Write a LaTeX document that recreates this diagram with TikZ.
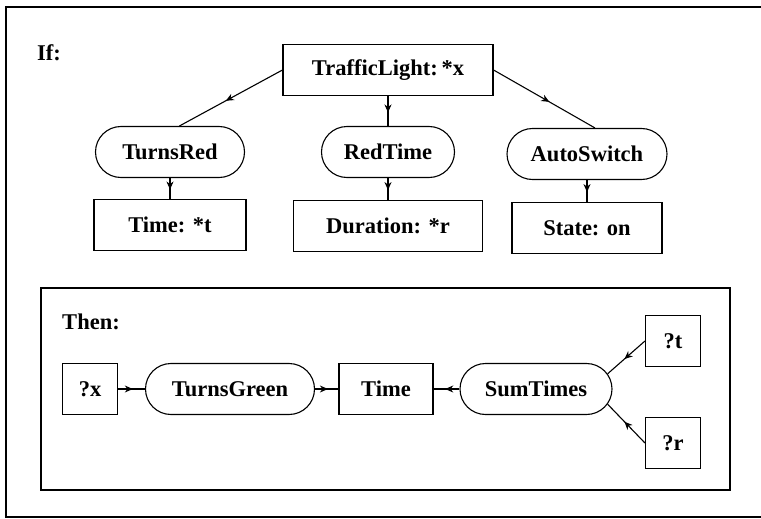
\documentclass[tikz,border=0pt]{standalone}
\usepackage{fontspec}
\setmainfont{Liberation Serif}
\usepackage{tikz}
\usetikzlibrary{arrows.meta,shapes.misc,decorations.markings}

\begin{document}
\begin{tikzpicture}[x=1pt, y=-1pt,
  every node/.style={font=\fontsize{22.5}{26}\selectfont\bfseries},
  box/.style={rectangle, draw=black, line width=1.1pt, inner sep=0pt, minimum height=51pt},
  oval/.style={rounded rectangle, draw=black, line width=1.1pt, inner sep=0pt, minimum height=51pt},
  mid/.style={line width=1.1pt, decoration={markings,
      mark=at position 0.55 with {\arrow{Stealth[length=8pt,width=7pt,inset=2.5pt]}}},
    postaction={decorate}}]
\useasboundingbox (0,0) rectangle (761,519);
% frames
\draw[line width=2pt] (761,7) -- (6,7) -- (6,517) -- (761,517);
\draw[line width=1.3pt] (41,288) rectangle (730,490);

% If part
\node (iflbl) at (49,53) {If:};
\node[box, minimum width=210pt] (light) at (388,70) {TrafficLight:\,*x};
\node[oval, minimum width=149pt] (turnsred) at (170,152) {TurnsRed};
\node[oval, minimum width=133pt] (redtime) at (388,152) {RedTime};
\node[oval, minimum width=160pt] (autoswitch) at (587,154) {AutoSwitch};
\node[box, minimum width=152pt] (timet) at (170,225) {Time: *t};
\node[box, minimum width=189pt] (durr) at (388,226) {Duration: *r};
\node[box, minimum width=150pt] (stateon) at (587,228) {State: on};
\draw[mid] (light.west) -- (turnsred.70);
\draw[mid] (light.south) -- (redtime.north);
\draw[mid] (light.east) -- (autoswitch.73);
\draw[mid] (turnsred.south) -- (timet.north);
\draw[mid] (redtime.south) -- (durr.north);
\draw[mid] (autoswitch.south) -- (stateon.north);

% Then part
\node (thenlbl) at (91,322) {Then:};
\node[box, minimum width=55pt] (qx) at (90,389) {?x};
\node[oval, minimum width=169pt] (turnsgreen) at (230,389) {TurnsGreen};
\node[box, minimum width=94pt] (time) at (386,389) {Time};
\node[oval, minimum width=152pt] (sumtimes) at (536,389) {SumTimes};
\node[box, minimum width=55pt] (qt) at (673,341) {?t};
\node[box, minimum width=55pt] (qr) at (673,443) {?r};
\draw[mid] (qx.east) -- (turnsgreen.west);
\draw[mid] (turnsgreen.east) -- (time.west);
\draw[mid] (sumtimes.west) -- (time.east);
\draw[mid] (qt.west) -- (sumtimes.12);
\draw[mid] (qr.west) -- (sumtimes.-12);
\end{tikzpicture}
\end{document}
